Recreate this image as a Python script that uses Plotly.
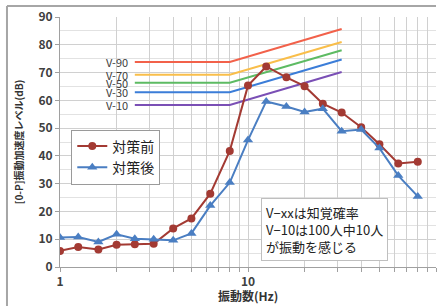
import plotly.graph_objects as go

freqs = [1, 1.25, 1.6, 2, 2.5, 3.15, 4, 5, 6.3, 8, 10, 12.5, 16, 20, 25, 31.5, 40, 50, 63, 80]
before = [5.8, 7.2, 6.3, 8.0, 8.2, 8.4, 13.9, 17.5, 26.4, 41.8, 65.3, 72.2, 68.3, 65.1, 58.8, 55.6, 50.3, 44.2, 37.3, 37.9]
after = [10.6, 10.8, 9.0, 11.8, 10.2, 10.0, 9.6, 12.1, 22.1, 30.4, 45.7, 59.6, 57.8, 55.8, 57.0, 48.9, 49.5, 42.8, 32.9, 25.4]

v_freqs = [2.5, 8, 31.5]
v_names = ["V-90", "V-70", "V-50", "V-30", "V-10"]
v_values = [
    [73.8, 73.8, 85.7],
    [69.2, 69.2, 81.0],
    [66.3, 66.3, 78.0],
    [62.9, 62.9, 74.7],
    [58.3, 58.3, 70.2],
]
v_colors = ["#F2614A", "#F9BE4A", "#5DBB63", "#3B7DD8", "#7A4FB5"]

x_tickvals = [1, 2, 3, 4, 5, 6, 7, 8, 9, 10, 20, 30, 40, 50, 60, 70, 80, 90, 100]
x_ticktext = ["1" if v == 1 else "10" if v == 10 else "100" if v == 100 else "" for v in x_tickvals]

JP = "Noto Sans CJK JP"
fig = go.Figure()

for name, vals, col in zip(v_names, v_values, v_colors):
    fig.add_trace(go.Scatter(x=v_freqs, y=vals, mode="lines", line=dict(color=col, width=2),
                             showlegend=False, hoverinfo="skip"))
    fig.add_annotation(x=0.39794, y=vals[0], xref="x", yref="y", text=name, showarrow=False,
                       xanchor="right", xshift=-6, borderpad=0,
                       font=dict(family=JP, size=11, color="#404040"))

fig.add_trace(go.Scatter(x=freqs, y=before, mode="lines+markers", name="対策前",
                         line=dict(color="#A33A33", width=2),
                         marker=dict(symbol="circle", size=8, color="#A33A33")))
fig.add_trace(go.Scatter(x=freqs, y=after, mode="lines+markers", name="対策後",
                         line=dict(color="#4A7EC2", width=2),
                         marker=dict(symbol="triangle-up", size=9, color="#4A7EC2")))

fig.add_annotation(x=0.535, y=0.278, xref="paper", yref="paper", xanchor="left", yanchor="top",
                   text="V−xxは知覚確率<br>V−10は100人中10人<br>が振動を感じる", showarrow=False,
                   align="left", bordercolor="#BFBFBF", borderwidth=1, borderpad=4, bgcolor="white",
                   font=dict(family=JP, size=13, color="#222222"))

# x-axis title
fig.add_annotation(x=0.5, y=-0.115, xref="paper", yref="paper", xanchor="center", yanchor="middle",
                   text="振動数(Hz)", showarrow=False,
                   font=dict(family=JP, size=12, color="#333333", weight="bold"))

# outer frame lines
fig.add_shape(type="line", xref="paper", yref="paper", x0=-0.141, x1=1.0, y0=1.044, y1=1.044,
              line=dict(color="#A6A6A6", width=2))
fig.add_shape(type="line", xref="paper", yref="paper", x0=-0.141, x1=-0.141, y0=1.044, y1=-0.16,
              line=dict(color="#A6A6A6", width=2))

fig.update_layout(
    width=443, height=306,
    margin=dict(l=60, r=7, t=15, b=39),
    paper_bgcolor="white", plot_bgcolor="white",
    font=dict(family=JP, size=12, color="#404040"),
    legend=dict(x=0.03, y=0.55, xanchor="left", yanchor="top", bordercolor="#9A9A9A", borderwidth=1,
                bgcolor="white", font=dict(family=JP, size=14, color="#222222"), itemwidth=30,
                tracegroupgap=2),
    xaxis=dict(type="log", range=[0, 2], tickvals=x_tickvals, ticktext=x_ticktext,
               showgrid=True, gridcolor="#D0D0D0", gridwidth=1,
               showline=True, linecolor="#A0A0A0", ticks="outside", ticklen=4, tickcolor="#A0A0A0",
               tickfont=dict(family=JP, size=12, color="#404040", weight="bold")),
    yaxis=dict(range=[0, 90], dtick=10, tick0=0, showgrid=True, gridcolor="#D0D0D0",
               minor=dict(dtick=5, showgrid=True, gridcolor="#E2E2E2"),
               showline=True, linecolor="#A0A0A0", ticks="outside", ticklen=4, tickcolor="#A0A0A0",
               zeroline=False,
               tickfont=dict(family=JP, size=12, color="#404040", weight="bold"),
               title=dict(text="[0-P]振動加速度レベル(dB)",
                          font=dict(family=JP, size=10, color="#333333", weight="bold"), standoff=12)),
)

fig.write_html("out.html", config={"displayModeBar": False},
               post_script="document.body.style.margin='0';")
